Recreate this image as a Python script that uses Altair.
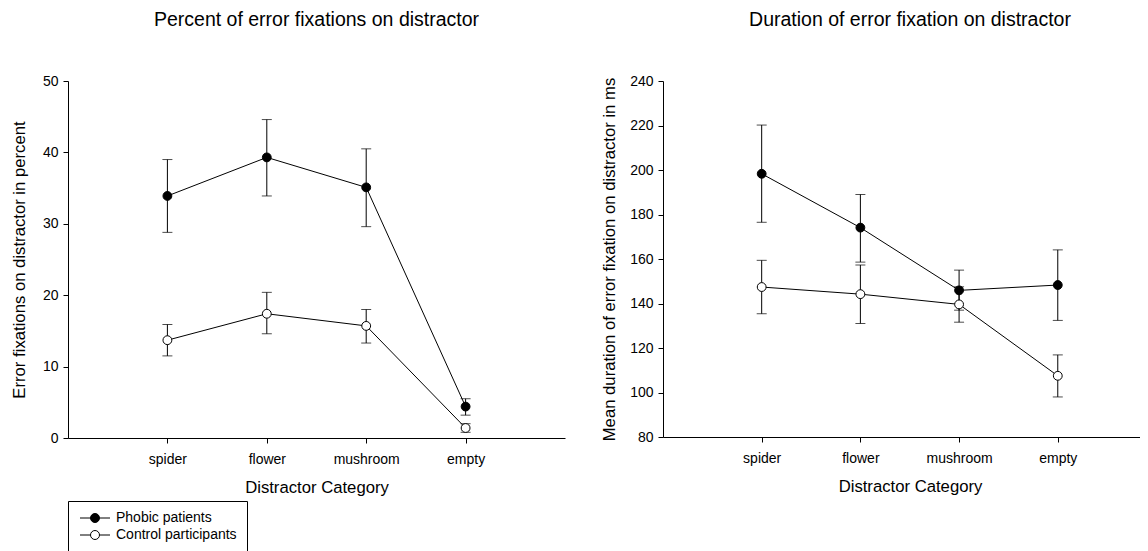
import altair as alt
import pandas as pd

categories = ["spider", "flower", "mushroom", "empty"]
groups = ["Phobic patients", "Control participants"]

# Left panel: percent of error fixations on distractor
pct_phobic = [33.9, 39.3, 35.1, 4.4]
pct_phobic_lo = [28.8, 33.9, 29.6, 3.2]
pct_phobic_hi = [39.0, 44.6, 40.5, 5.5]
pct_control = [13.7, 17.4, 15.7, 1.4]
pct_control_lo = [11.5, 14.6, 13.3, 0.8]
pct_control_hi = [15.9, 20.4, 18.0, 2.0]

# Right panel: duration of error fixation on distractor (ms)
dur_phobic = [198.3, 174.1, 145.9, 148.3]
dur_phobic_lo = [176.5, 158.6, 137.0, 132.4]
dur_phobic_hi = [220.2, 189.0, 155.0, 164.1]
dur_control = [147.4, 144.2, 139.6, 107.5]
dur_control_lo = [135.4, 131.0, 131.6, 98.0]
dur_control_hi = [159.4, 157.3, 147.5, 116.9]

pct_ticks = [0, 10, 20, 30, 40, 50]
dur_ticks = [80, 100, 120, 140, 160, 180, 200, 220, 240]

FONT = "Liberation Sans"


def make_df(means, los, his):
    rows = []
    for g, m, lo, hi in zip(groups, means, los, his):
        for i, c in enumerate(categories):
            rows.append({"category": c, "idx": i, "group": g,
                         "mean": m[i], "lo": lo[i], "hi": hi[i]})
    return pd.DataFrame(rows)


df_pct = make_df([pct_phobic, pct_control], [pct_phobic_lo, pct_control_lo],
                 [pct_phobic_hi, pct_control_hi])
df_dur = make_df([dur_phobic, dur_control], [dur_phobic_lo, dur_control_lo],
                 [dur_phobic_hi, dur_control_hi])

LEGEND_PATH = ("M-1,0L1.1,0M2.9,0L5,0"
               "M1.1,0A0.9,0.9,0,1,1,2.9,0A0.9,0.9,0,1,1,1.1,0Z")


def panel(df, title, title_dx, ytitle, ydomain, yticks, width, height,
          xscale, x_title_x, y_title_pad, legend):
    xaxis_kw = dict(title="Distractor Category", labelAngle=0,
                    labelPadding=9, titlePadding=13.5)
    if x_title_x is not None:
        xaxis_kw["titleX"] = x_title_x
    x = alt.X("category:N", sort=categories, scale=xscale,
              axis=alt.Axis(**xaxis_kw))
    yscale = alt.Scale(domain=ydomain, nice=False, zero=False)
    yaxis = alt.Axis(title=ytitle, values=yticks, labelPadding=5,
                     titlePadding=y_title_pad)
    base = alt.Chart(df)
    rules = base.mark_rule(color="black", strokeWidth=1).encode(
        x=x, y=alt.Y("lo:Q", scale=yscale, axis=yaxis), y2="hi:Q")
    cap_lo = base.mark_tick(color="black", thickness=1, size=10).encode(
        x=x, y=alt.Y("lo:Q", scale=yscale, axis=yaxis))
    cap_hi = base.mark_tick(color="black", thickness=1, size=10).encode(
        x=x, y=alt.Y("hi:Q", scale=yscale, axis=yaxis))
    lines = base.mark_line(color="black", strokeWidth=1).encode(
        x=x, y=alt.Y("mean:Q", scale=yscale, axis=yaxis),
        detail="group:N", order="idx:Q")
    fill_scale = alt.Scale(domain=groups, range=["black", "white"])
    if legend:
        leg = alt.Legend(title=None, orient="none", legendX=0, legendY=420,
                         symbolType=LEGEND_PATH, symbolSize=100,
                         symbolStrokeColor="black", symbolStrokeWidth=1,
                         labelFont=FONT, labelFontSize=14, labelColor="black",
                         labelOffset=24, padding=10, rowPadding=3,
                         strokeColor="black", fillColor="white",
                         direction="vertical")
    else:
        leg = None
    points = base.mark_point(shape="circle", filled=True, size=78,
                             stroke="black", strokeWidth=1, opacity=1).encode(
        x=x, y=alt.Y("mean:Q", scale=yscale, axis=yaxis),
        fill=alt.Fill("group:N", scale=fill_scale, legend=leg))
    return alt.layer(rules, cap_lo, cap_hi, lines, points).properties(
        width=width, height=height,
        title=alt.TitleParams(title, dx=title_dx, anchor="middle"))


left = panel(df_pct, "Percent of error fixations on distractor", 0,
             "Error fixations on distractor in percent", [0, 50], pct_ticks,
             497, 357, alt.Scale(type="point", padding=1), None, 14, True)
right = panel(df_dur, "Duration of error fixation on distractor", 8.5,
              "Mean duration of error fixation on distractor in ms", [80, 240],
              dur_ticks, 477, 356,
              alt.Scale(type="point", padding=0.9165, align=0.5455), 247, 11,
              False)

chart = alt.hconcat(left, right, spacing=98, bounds="flush").resolve_scale(
    fill="independent").resolve_legend(fill="independent").properties(
    padding={"left": 3, "top": 1, "right": 0, "bottom": 0}
).configure_view(stroke=None).configure_axis(
    grid=False, domainColor="black", tickColor="black", tickSize=5,
    labelColor="black", titleColor="black", labelFont=FONT, titleFont=FONT,
    labelFontSize=14, titleFontSize=16.7, titleFontWeight="normal"
).configure_title(
    font=FONT, fontSize=19.5, fontWeight="normal", color="black", offset=44
)

chart.save("out.html", embed_options={"renderer": "svg", "actions": False})
